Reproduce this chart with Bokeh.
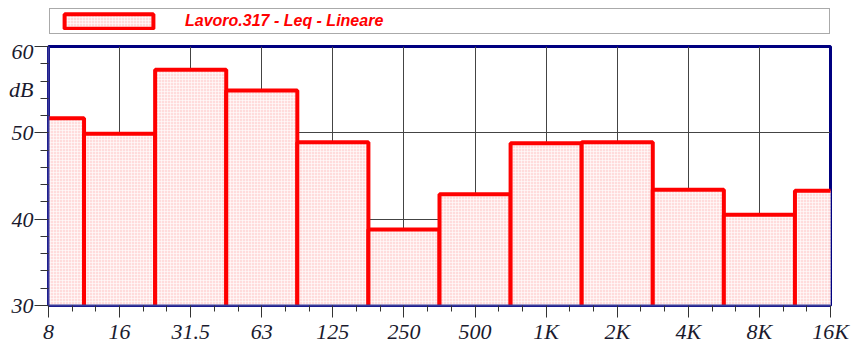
from bokeh.plotting import figure
from bokeh.layouts import column
from bokeh.models import (FixedTicker, Legend, LegendItem, LinearAxis,
                          ColumnDataSource, Range1d)
from bokeh.embed import file_html
from bokeh.resources import INLINE

# ---- data ----
bands = ["8", "16", "31.5", "63", "125", "250", "500", "1K", "2K", "4K", "8K", "16K"]
leq_db = [51.7, 49.9, 57.3, 54.9, 48.9, 38.8, 42.9, 48.8, 48.9, 43.4, 40.5, 43.3]
y_ticks = [30, 40, 50, 60]
y_minor = [32, 34, 36, 38, 42, 44, 46, 48, 52, 54, 56, 58]
series_name = "Lavoro.317 - Leq - Lineare"
y_unit = "dB"
y_unit_at = 55

idx = list(range(len(bands)))
src = ColumnDataSource(dict(
    left=[i - 0.5 for i in idx],
    right=[i + 0.5 for i in idx],
    top=leq_db,
    bottom=[0] * len(idx),
))

BAR_STYLE = dict(fill_color="#ffdcdc", line_color="#ff0000", line_width=4,
                 hatch_pattern="+", hatch_color="white", hatch_scale=3,
                 hatch_weight=1, hatch_alpha=0.6)

# ---------------- legend strip (separate figure above) ----------------
lg = figure(frame_width=784, frame_height=31, output_backend="svg", toolbar_location=None,
            x_range=Range1d(0, 1), y_range=Range1d(0, 1),
            x_axis_type=None, y_axis_type=None,
            min_border_left=47, min_border_right=20, min_border_top=7, min_border_bottom=0)
lg.grid.visible = False
lg.outline_line_color = None
lg.background_fill_color = "white"
lg.border_fill_color = "white"
r_leg = lg.quad(left="left", right="right", top="top", bottom="bottom", source=src,
                visible=False, **BAR_STYLE)
legend = Legend(items=[LegendItem(label=series_name, renderers=[r_leg])],
                location="top_left", orientation="horizontal", padding=3, margin=1,
                spacing=0, glyph_width=111, glyph_height=18, label_standoff=21,
                label_width=641, label_height=18, inactive_fill_alpha=0,
                border_line_color="#555555", border_line_width=1.5,
                background_fill_color="white", background_fill_alpha=1,
                label_text_color="#ff0000", label_text_font="Liberation Sans",
                label_text_font_style="bold italic", label_text_font_size="16px")
lg.add_layout(legend)

# ---------------- main chart ----------------
FW, FH = 782, 259
p = figure(frame_width=FW, frame_height=FH, output_backend="svg", toolbar_location=None,
           x_range=Range1d(idx[0], idx[-1]), y_range=Range1d(y_ticks[0], y_ticks[-1]),
           min_border_left=48, min_border_right=21, min_border_top=8, min_border_bottom=40)

r = p.quad(left="left", right="right", top="top", bottom="bottom", source=src, **BAR_STYLE)

LABEL_FONT = dict(major_label_text_font="Liberation Serif", major_label_text_font_style="italic",
                  major_label_text_font_size="22px", major_label_text_color="#1a1a2e")

# x axis
minor_x = [i + k / 3 for i in idx[:-1] for k in (1, 2)]
xa = p.xaxis[0]
xa.ticker = FixedTicker(ticks=idx, minor_ticks=minor_x)
xa.major_label_overrides = {i: b for i, b in zip(idx, bands)}
xa.update(axis_line_color="#3a3a9a", axis_line_width=2,
          major_tick_line_color="#333333", minor_tick_line_color="#333333",
          major_tick_in=0, minor_tick_in=0, major_tick_out=12, minor_tick_out=6,
          major_label_standoff=1, **LABEL_FONT)

# y axis, inner: ticks only
ya = p.yaxis[0]
ya.ticker = FixedTicker(ticks=y_ticks, minor_ticks=y_minor)
ya.major_label_overrides = {t: "" for t in y_ticks}
ya.update(axis_line_color="#3a3a9a", axis_line_width=2,
          major_tick_line_color="#333333", minor_tick_line_color="#333333",
          major_tick_in=0, minor_tick_in=0, major_tick_out=14, minor_tick_out=8,
          major_label_standoff=0)

# y axis, outer: labels only (with the unit "dB")
label_ticks = sorted(y_ticks + [y_unit_at])
ya2 = LinearAxis(ticker=FixedTicker(ticks=label_ticks, minor_ticks=[]),
                 major_label_overrides={y_unit_at: y_unit},
                 axis_line_color=None, major_tick_line_color=None, minor_tick_line_color=None,
                 major_tick_in=0, major_tick_out=0, minor_tick_in=0, minor_tick_out=0,
                 major_label_standoff=1, **LABEL_FONT)
p.add_layout(ya2, "left")

p.xgrid.grid_line_color = "#444444"
p.ygrid.grid_line_color = "#444444"
p.xgrid.grid_line_width = 1
p.ygrid.grid_line_width = 1

p.outline_line_color = "#000080"
p.outline_line_width = 3
p.background_fill_color = "white"
p.border_fill_color = "white"

page = column(lg, p, spacing=0)
open("out.html", "w").write(file_html(page, INLINE))
